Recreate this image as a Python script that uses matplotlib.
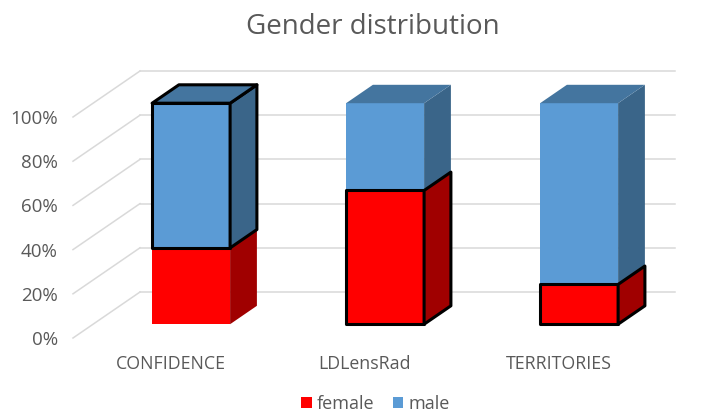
import matplotlib

matplotlib.use("Agg")
import matplotlib.pyplot as plt
from matplotlib.patches import Patch, Polygon

categories = ["CONFIDENCE", "LDLensRad", "TERRITORIES"]
female = [34.5, 60.5, 18]
male = [65.5, 39.5, 82]
outlined = ["male", "female", "female"]  # which segment got the black border
yticks = [0, 20, 40, 60, 80, 100]

W, H = 717, 412
# front plane of the fake 3d box, in pixels
LEFT, RIGHT, BOTTOM, TOP = 73, 608, 338, 117
CAT_PX = 194.0
DX = 67 / CAT_PX  # full box depth, in data units
DY = 46 / ((BOTTOM - TOP) / 100)
BAR_W = 39 / CAT_PX
D_FRONT, D_BACK = 0.3, 0.7

COLORS = {
    "female": ("#FF0000", "#C00000", "#A00000"),
    "male": ("#5B9BD5", "#44759F", "#3A6589"),
}
GRID = "#D9D9D9"
TEXT = "#595959"

plt.rcParams["font.family"] = ["Open Sans", "DejaVu Sans"]

fig = plt.figure(figsize=(W / 100, H / 100), dpi=100)
ax = fig.add_axes([LEFT / W, 1 - BOTTOM / H, (RIGHT - LEFT) / W, (BOTTOM - TOP) / H])
ax.set_xlim(-(171 - LEFT) / CAT_PX, (RIGHT - 171) / CAT_PX)
ax.set_ylim(0, 100)
for s in ax.spines.values():
    s.set_visible(False)
ax.patch.set_visible(False)


def proj(x, y, d):
    return x + d * DX, y + d * DY


def draw_segment(x, y0, y1, name, edge):
    front, top, side = COLORS[name]
    l, r = x - BAR_W, x + BAR_W
    ec = "black" if edge else "none"
    lw = 2.2 if edge else 0
    z = 5 if edge else 3
    faces = [
        ([(l, y0, D_FRONT), (r, y0, D_FRONT), (r, y1, D_FRONT), (l, y1, D_FRONT)], front),
        ([(r, y0, D_FRONT), (r, y0, D_BACK), (r, y1, D_BACK), (r, y1, D_FRONT)], side),
        ([(l, y1, D_FRONT), (r, y1, D_FRONT), (r, y1, D_BACK), (l, y1, D_BACK)], top),
    ]
    # a top face is only seen on the last segment of the stack
    if y1 < 100:
        faces = faces[:2]
    for pts, color in faces:
        ax.add_patch(Polygon([proj(*p) for p in pts], closed=True, facecolor=color,
                             edgecolor=ec, linewidth=lw, joinstyle="round",
                             clip_on=False, zorder=z))


# wall gridlines
x0, x1 = ax.get_xlim()
for t in yticks:
    bx, by = proj(x0, t, 1)
    ax.plot([x0, bx], [t, by], color=GRID, lw=1.1, clip_on=False, zorder=1)
    ax.plot([bx, x1 + DX], [by, by], color=GRID, lw=1.1, clip_on=False, zorder=1)

for i, name in enumerate(categories):
    draw_segment(i, 0, female[i], "female", outlined[i] == "female")
    draw_segment(i, female[i], female[i] + male[i], "male", outlined[i] == "male")

ax.set_yticks(yticks)
ax.set_yticklabels([f"{t}%" for t in yticks], fontsize=13.5, color=TEXT)
ax.set_xticks(range(len(categories)))
ax.set_xticklabels(categories, fontsize=12.8, color=TEXT)
ax.tick_params(length=0)
ax.tick_params(axis="y", pad=11)
ax.tick_params(axis="x", pad=12)

fig.text(373 / W, 1 - 27 / H, "Gender distribution", ha="center", va="center",
         fontsize=20, color=TEXT)

handles = [Patch(facecolor=COLORS["female"][0], label="female"),
           Patch(facecolor=COLORS["male"][0], label="male")]
fig.legend(handles=handles, loc="center", bbox_to_anchor=(375.5 / W, 1 - 404 / H), ncol=2,
           frameon=False, fontsize=13, labelcolor=TEXT, handlelength=0.6,
           handleheight=0.6, handletextpad=0.28, columnspacing=1.0)

fig.savefig("out.png", dpi=100)
plt.close(fig)
